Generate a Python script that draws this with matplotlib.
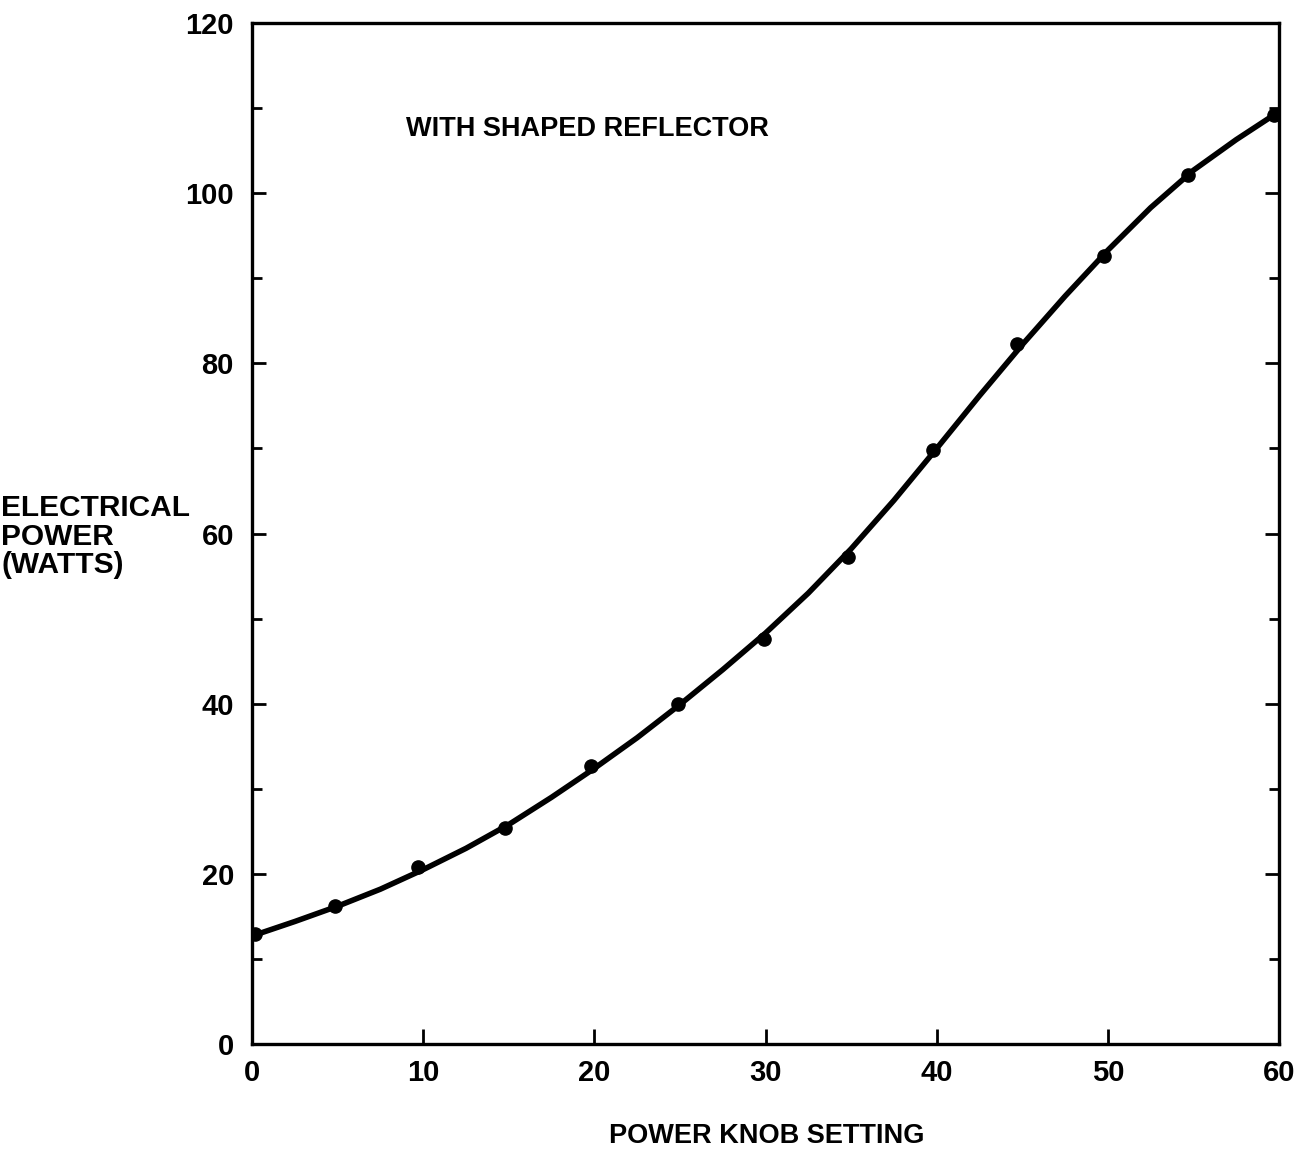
import matplotlib
matplotlib.use("Agg")
import matplotlib.pyplot as plt
from matplotlib.ticker import MultipleLocator

# Measured data points (knob setting, watts)
knob = [0.2, 4.85, 9.7, 14.8, 19.8, 24.9, 29.9, 34.8, 39.8, 44.7, 49.8, 54.7, 59.7]
watts = [12.9, 16.2, 20.8, 25.4, 32.7, 40.0, 47.6, 57.3, 69.8, 82.3, 92.6, 102.2, 109.2]

# Smooth curve
curve_x = [0, 2.5, 5, 7.5, 10, 12.5, 15, 17.5, 20, 22.5, 25, 27.5, 30, 32.5,
           35, 37.5, 40, 42.5, 45, 47.5, 50, 52.5, 55, 57.5, 59.7]
curve_y = [12.7, 14.4, 16.2, 18.2, 20.5, 23.0, 25.8, 29.0, 32.4, 36.0, 39.9, 44.0,
           48.3, 53.0, 58.2, 63.9, 70.0, 76.2, 82.2, 87.9, 93.3, 98.3, 102.7, 106.3, 109.2]

x_ticks = [0, 10, 20, 30, 40, 50, 60]
y_ticks = [0, 20, 40, 60, 80, 100, 120]

plt.rcParams['font.family'] = ['Liberation Sans', 'DejaVu Sans']

fig = plt.figure(figsize=(13.16, 11.54), dpi=100)
ax = fig.add_axes([0.1915, 0.0953, 0.7804, 0.8847])

ax.plot(curve_x, curve_y, color='black', lw=4.0, solid_capstyle='round',
        solid_joinstyle='round', zorder=2)
ax.plot(knob, watts, 'o', color='black', ms=9.5, zorder=3)

ax.set_xlim(0, 60)
ax.set_ylim(0, 120)
ax.set_xticks(x_ticks)
ax.set_yticks(y_ticks)
ax.yaxis.set_minor_locator(MultipleLocator(10))
ax.set_xticklabels([str(v) for v in x_ticks], fontsize=21, fontweight='bold')
ax.set_yticklabels([str(v) for v in y_ticks], fontsize=21, fontweight='bold')

for s in ax.spines.values():
    s.set_linewidth(2.4)

ax.tick_params(axis='x', which='major', direction='in', length=11, width=2, pad=11,
               top=False, bottom=True)
ax.tick_params(axis='y', which='major', direction='in', length=10, width=2, pad=13,
               left=True, right=True)
ax.tick_params(axis='y', which='minor', direction='in', length=7, width=2,
               left=True, right=True)

ax.text(19.6, 107.6, "WITH SHAPED REFLECTOR", fontsize=19.5, fontweight='bold',
        ha='center', va='center')

ax.set_xlabel("POWER KNOB SETTING", fontsize=19.5, fontweight='bold', va='center')
ax.xaxis.set_label_coords(0.501, -0.09)
ax.set_ylabel("ELECTRICAL\nPOWER\n(WATTS)", fontsize=21.5, fontweight='bold',
              rotation=0, ha='left', va='center', linespacing=1.02)
ax.yaxis.set_label_coords(-0.244, 0.497)

fig.savefig("out.png", dpi=100, facecolor='white')
